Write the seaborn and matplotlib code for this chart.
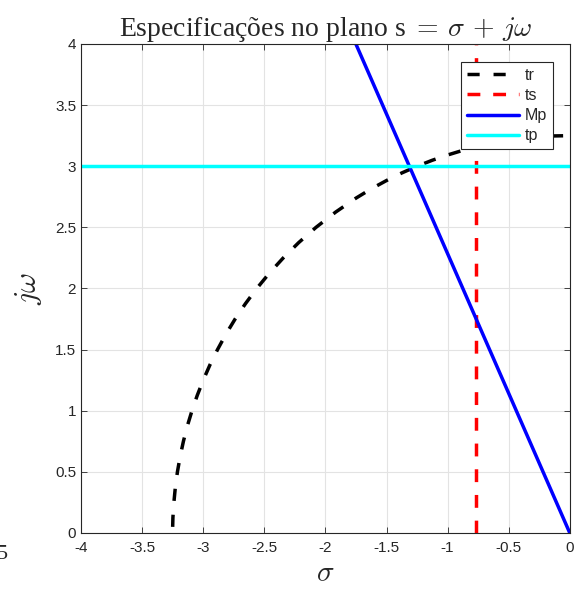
import numpy as np
import pandas as pd
import seaborn as sns
import matplotlib
matplotlib.use("Agg")
import matplotlib.pyplot as plt

# tr: arc (sigma, jw)
tr_x = [-3.25, -3.248, -3.24, -3.228, -3.211, -3.189, -3.162, -3.13, -3.092,
        -3.049, -3.0, -2.945, -2.883, -2.815, -2.739, -2.655, -2.562, -2.459,
        -2.345, -2.219, -2.077, -1.916, -1.75, -1.625, -1.5, -1.375, -1.25,
        -1.125, -1.0, -0.875, -0.75, -0.625, -0.5, -0.375, -0.25, -0.125, 0.0]
tr_y = [0.05, 0.125, 0.25, 0.375, 0.5, 0.625, 0.75, 0.875, 1.0,
        1.125, 1.25, 1.375, 1.5, 1.625, 1.75, 1.875, 2.0, 2.125,
        2.25, 2.375, 2.5, 2.625, 2.739, 2.815, 2.883, 2.945, 3.0,
        3.049, 3.092, 3.13, 3.162, 3.189, 3.211, 3.228, 3.24, 3.248, 3.25]
# ts: vertical line
ts_x = [-0.77, -0.77]
ts_y = [0.0, 4.0]
# Mp: line through origin
mp_x = [0.0, -2.0]
mp_y = [0.0, 4.57]
# tp: horizontal line
tp_x = [-4.0, 0.0]
tp_y = [3.0, 3.0]

sns.set_style("whitegrid")
plt.rcParams['font.family'] = ['Liberation Sans', 'DejaVu Sans']
plt.rcParams['mathtext.fontset'] = 'cm'

fig = plt.figure(figsize=(5.85, 5.92), dpi=100)
ax = fig.add_axes([0.1385, 0.0997, 0.8355, 0.826])

sns.lineplot(x=tr_x, y=tr_y, ax=ax, color='black', lw=2.5, sort=False,
             estimator=None, label='tr')
ax.lines[-1].set_dashes([3.5, 4.0])
sns.lineplot(x=ts_x, y=ts_y, ax=ax, color='#ff0000', lw=2.5, sort=False,
             estimator=None, label='ts')
ax.lines[-1].set_dashes([3.7, 3.7])
sns.lineplot(x=mp_x, y=mp_y, ax=ax, color='#0000ff', lw=2.5, sort=False,
             estimator=None, label='Mp')
sns.lineplot(x=tp_x, y=tp_y, ax=ax, color='#00ffff', lw=2.5, sort=False,
             estimator=None, label='tp')

ax.set_xlim(-4, 0)
ax.set_ylim(0, 4)
ax.set_xticks(np.arange(-4, 0.01, 0.5))
ax.set_yticks(np.arange(0, 4.01, 0.5))
ax.set_xticklabels(['-4', '-3.5', '-3', '-2.5', '-2', '-1.5', '-1', '-0.5', '0'])
ax.set_yticklabels(['0', '0.5', '1', '1.5', '2', '2.5', '3', '3.5', '4'])
ax.grid(True, color='#e3e3e3', lw=0.8)
for s in ax.spines.values():
    s.set_color('#262626')
    s.set_linewidth(0.8)
ax.tick_params(direction='in', length=4, width=0.6, colors='#262626',
               labelsize=11, top=True, right=True, bottom=True, left=True,
               labelcolor='#262626')
ax.tick_params(axis='x', pad=6)

ax.set_xlabel(r'$\sigma$', fontsize=21, labelpad=3)
ax.set_ylabel(r'$j\omega$', fontsize=22, labelpad=8)
ax.set_title(r'Especificações no plano s $=\,\sigma\,+\,j\omega$',
             fontsize=20, family=['Liberation Serif', 'DejaVu Serif'], pad=6)

leg = ax.legend(loc='upper right', bbox_to_anchor=(0.965, 0.963), fontsize=11.5,
                frameon=True, fancybox=False, handlelength=3.3,
                borderaxespad=0, borderpad=0.35, labelspacing=0.33,
                handletextpad=0.35)
leg.get_frame().set_edgecolor('#262626')
leg.get_frame().set_linewidth(0.8)
leg.get_frame().set_alpha(1)

fig.text(-0.006, 0.055, '5', fontsize=16, family=['Liberation Serif'])

fig.savefig('out.png', dpi=100)
